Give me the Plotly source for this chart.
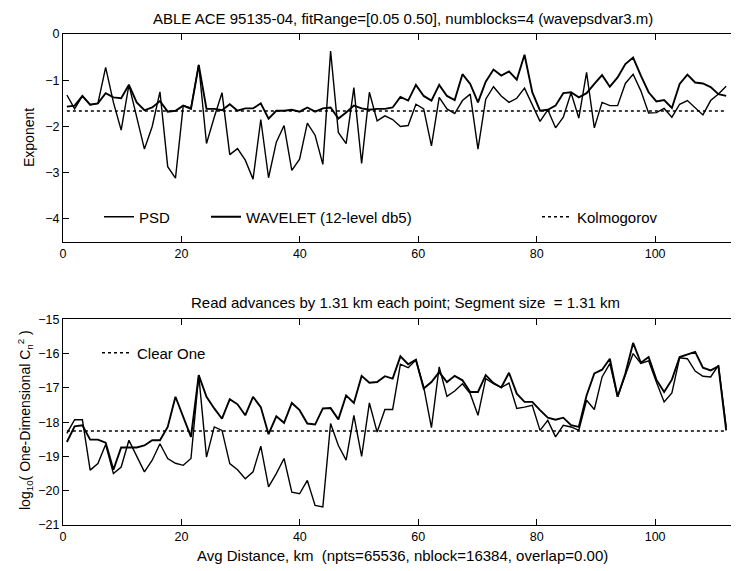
import plotly.graph_objects as go

# ---------------- data ----------------
n_points = 86
step_km = 1.31
x_km = [round(0.655 + step_km * i, 3) for i in range(n_points)]

# top panel: spectral exponents
psd_exponent = [-1.32, -1.62, -1.34, -1.53, -1.50, -0.72, -1.48, -2.08, -1.10, -1.80,
                 -2.49, -2.00, -1.25, -2.87, -3.12, -1.55, -1.60, -0.67, -2.37, -1.80,
                 -1.27, -2.61, -2.48, -2.73, -3.14, -1.85, -3.11, -2.34, -1.98, -2.95,
                 -2.71, -1.93, -2.19, -2.82, -0.37, -2.13, -2.37, -1.16, -2.80, -1.26,
                 -1.88, -1.77, -1.85, -2.00, -1.98, -1.52, -1.62, -2.42, -1.37, -1.62,
                 -1.72, -1.44, -1.30, -2.49, -1.41, -1.14, -1.34, -1.48, -1.39, -1.17,
                 -1.52, -1.89, -1.64, -2.03, -1.80, -1.27, -1.82, -0.83, -2.03, -1.48,
                 -1.55, -1.55, -1.07, -0.87, -1.23, -1.71, -1.70, -1.61, -1.80, -1.52,
                 -1.44, -1.59, -1.75, -1.44, -1.30, -1.13]
wavelet_exponent = [-1.57, -1.55, -1.34, -1.53, -1.50, -1.28, -1.37, -1.39, -1.10, -1.48,
                    -1.65, -1.59, -1.45, -1.68, -1.66, -1.55, -1.62, -0.67, -1.62, -1.62,
                    -1.65, -1.52, -1.66, -1.61, -1.61, -1.50, -1.83, -1.66, -1.66, -1.64,
                    -1.68, -1.59, -1.68, -1.61, -1.59, -1.83, -1.70, -1.55, -1.61, -1.64,
                    -1.62, -1.62, -1.59, -1.36, -1.44, -1.10, -1.34, -1.44, -1.10, -1.34,
                    -1.43, -0.87, -1.08, -1.48, -1.03, -0.77, -0.90, -0.81, -0.99, -0.45,
                    -1.26, -1.66, -1.64, -1.55, -1.28, -1.26, -1.37, -1.28, -1.08, -0.89,
                    -1.14, -0.94, -0.65, -0.51, -0.90, -1.26, -1.46, -1.43, -1.60, -1.08,
                    -0.88, -1.05, -1.07, -1.15, -1.30, -1.34]
kolmogorov_exponent = -5.0 / 3.0

# bottom panel: log10 Cn2
cn2_upper = [-18.58, -18.12, -18.09, -18.51, -18.51, -18.60, -19.39, -18.74, -18.74, -18.74,
             -18.68, -18.53, -18.53, -18.14, -17.26, -17.85, -18.43, -16.63, -17.26, -17.60,
             -17.90, -17.33, -17.48, -17.80, -17.26, -17.56, -18.35, -17.83, -18.02, -17.44,
             -17.65, -18.04, -18.07, -17.60, -17.59, -17.92, -17.22, -17.44, -16.65, -16.85,
             -16.83, -16.66, -16.73, -16.08, -16.31, -16.18, -17.02, -16.83, -16.54, -16.83,
             -16.65, -16.78, -17.12, -17.12, -16.63, -16.86, -16.99, -16.56, -17.17, -17.41,
             -17.41, -17.65, -17.87, -17.93, -17.87, -18.09, -18.14, -17.22, -16.58, -16.47,
             -16.15, -17.26, -16.58, -15.69, -16.27, -16.10, -16.76, -17.12, -16.76, -16.10,
             -16.02, -15.95, -16.41, -16.49, -16.37, -18.24]
cn2_lower = [-18.33, -17.93, -17.93, -19.40, -19.21, -18.65, -19.50, -19.31, -18.53, -19.00,
             -19.45, -19.11, -18.63, -19.06, -19.20, -19.26, -19.06, -16.63, -19.02, -18.14,
             -18.24, -19.21, -19.39, -19.65, -19.45, -18.70, -19.89, -19.50, -19.06, -20.04,
             -20.09, -19.70, -20.43, -20.47, -18.04, -18.68, -19.11, -17.80, -19.00, -17.44,
             -18.29, -17.63, -17.63, -16.31, -16.41, -16.19, -16.97, -18.16, -16.39, -17.25,
             -17.09, -16.88, -17.17, -17.80, -16.73, -16.88, -16.99, -16.86, -17.60, -17.56,
             -17.51, -18.24, -17.95, -18.43, -18.09, -18.14, -18.24, -17.36, -17.63, -16.68,
             -16.29, -17.26, -16.63, -16.00, -16.29, -16.21, -16.83, -17.41, -17.15, -16.12,
             -16.15, -16.51, -16.66, -16.68, -16.34, -18.14]
clear_one_level = -18.26

top_yticks = [0, -1, -2, -3, -4]
bottom_yticks = [-15, -16, -17, -18, -19, -20, -21]
x_ticks = [0, 20, 40, 60, 80, 100]

# ---------------- figure ----------------
OFF = 8                      # page body margin of the html page
W, H = 739 - OFF, 571 - OFF
ML, MR, MT, MB = 63 - OFF, 1, 34 - OFF, 46
PW, PH = W - ML - MR, H - MT - MB

def py(pix):  # screen row -> paper y
    return (H - MB - (pix - OFF)) / PH

def px(pix):  # screen column -> paper x
    return ((pix - OFF) - ML) / PW

FONT = "Liberation Sans, Arial, sans-serif"
black = "black"

fig = go.Figure()

fig.add_trace(go.Scatter(x=x_km, y=psd_exponent, mode="lines", name="PSD",
                         line=dict(color=black, width=1.4), xaxis="x", yaxis="y",
                         legend="legend"))
fig.add_trace(go.Scatter(x=x_km, y=wavelet_exponent, mode="lines",
                         name="WAVELET (12-level db5)",
                         line=dict(color=black, width=1.9), xaxis="x", yaxis="y",
                         legend="legend2"))
fig.add_trace(go.Scatter(x=[x_km[0], x_km[-1]], y=[kolmogorov_exponent] * 2, mode="lines",
                         name="Kolmogorov", line=dict(color=black, width=1.4, dash="dot"),
                         xaxis="x", yaxis="y", legend="legend3"))

fig.add_trace(go.Scatter(x=x_km, y=cn2_upper, mode="lines", showlegend=False,
                         line=dict(color=black, width=1.9), xaxis="x2", yaxis="y2"))
fig.add_trace(go.Scatter(x=x_km, y=cn2_lower, mode="lines", showlegend=False,
                         line=dict(color=black, width=1.4), xaxis="x2", yaxis="y2"))
fig.add_trace(go.Scatter(x=[x_km[0], x_km[-1]], y=[clear_one_level] * 2, mode="lines",
                         name="Clear One", line=dict(color=black, width=1.4, dash="dot"),
                         xaxis="x2", yaxis="y2", legend="legend4"))

axis_common = dict(showline=True, linecolor=black, linewidth=1, mirror="ticks",
                   ticks="inside", ticklen=6, tickcolor=black, tickwidth=1,
                   showgrid=False, zeroline=False,
                   tickfont=dict(family=FONT, size=12.5, color=black))

top_dom = [py(242), py(34)]
bot_dom = [py(525), py(319.3)]

LEG_FONT = dict(family=FONT, size=15, color=black)

fig.update_layout(
    width=W, height=H,
    margin=dict(l=ML, r=MR, t=MT, b=MB),
    paper_bgcolor="white", plot_bgcolor="white",
    font=dict(family=FONT, size=15, color=black),
    xaxis=dict(axis_common, range=[0, 114], tickvals=x_ticks, anchor="y"),
    yaxis=dict(axis_common, range=[-4.5, 0], tickvals=top_yticks, domain=top_dom,
               anchor="x"),
    xaxis2=dict(axis_common, range=[0, 114], tickvals=x_ticks, anchor="y2"),
    yaxis2=dict(axis_common, range=[-21, -15], tickvals=bottom_yticks, domain=bot_dom,
                anchor="x2"),
    legend=dict(x=px(99), y=py(217), xanchor="left", yanchor="middle",
                bgcolor="rgba(0,0,0,0)", font=LEG_FONT),
    legend2=dict(x=px(206), y=py(217), xanchor="left", yanchor="middle",
                 bgcolor="rgba(0,0,0,0)", font=LEG_FONT),
    legend3=dict(x=px(537), y=py(217), xanchor="left", yanchor="middle",
                 bgcolor="rgba(0,0,0,0)", font=LEG_FONT),
    legend4=dict(x=px(97), y=py(353), xanchor="left", yanchor="middle",
                 bgcolor="rgba(0,0,0,0)", font=LEG_FONT),
    annotations=[
        dict(text="ABLE ACE 95135-04, fitRange=[0.05 0.50], numblocks=4 (wavepsdvar3.m)",
             x=px(403), y=py(8), xref="paper", yref="paper", showarrow=False,
             xanchor="center", yanchor="top", font=dict(size=15)),
        dict(text="Read advances by 1.31 km each point; Segment size  = 1.31 km",
             x=px(405), y=py(303), xref="paper", yref="paper", showarrow=False,
             xanchor="center", yanchor="middle", font=dict(size=15)),
        dict(text="Avg Distance, km  (npts=65536, nblock=16384, overlap=0.00)",
             x=px(402), y=py(555), xref="paper", yref="paper", showarrow=False,
             xanchor="center", yanchor="middle", font=dict(size=15)),
        dict(text="Exponent", x=px(29), y=py(138), xref="paper", yref="paper",
             showarrow=False, textangle=-90, xanchor="center", yanchor="middle",
             font=dict(size=14)),
        dict(text="log<sub>10</sub>( One-Dimensional C<sub>n</sub><sup>2</sup> )",
             x=px(25), y=py(420), xref="paper", yref="paper", showarrow=False,
             textangle=-90, xanchor="center", yanchor="middle", font=dict(size=14)),
    ],
)

fig.write_html("out.html")
